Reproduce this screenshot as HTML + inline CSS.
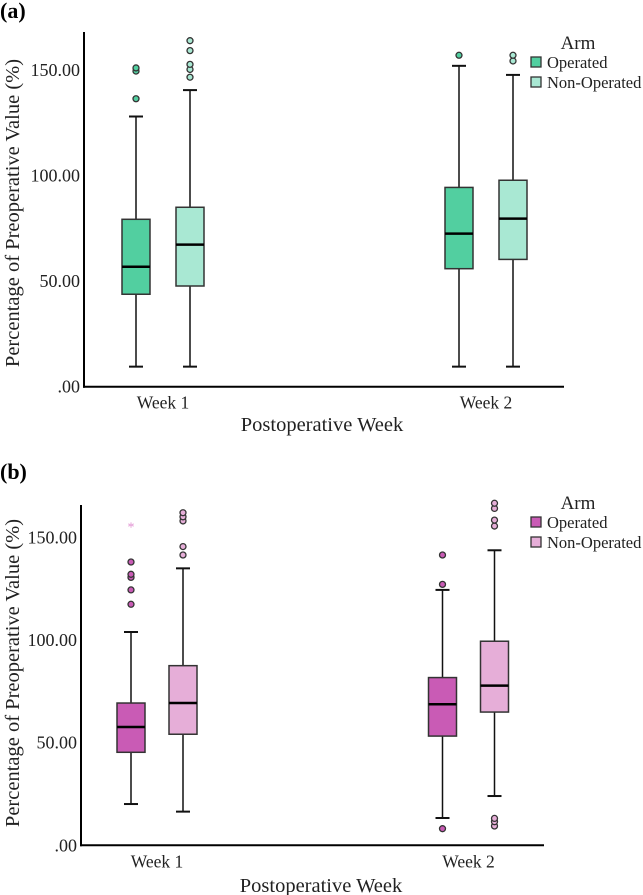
<!DOCTYPE html>
<html><head><meta charset="utf-8"><style>
html,body{margin:0;padding:0;background:#fff;}
svg{display:block;}
text{font-family:"Liberation Serif",serif;}
</style></head><body>
<svg id="fig" width="643" height="895" viewBox="0 0 643 895" xmlns="http://www.w3.org/2000/svg"></svg>
<script>
// Panel (a) data: [whiskerLow, Q1, median, Q3, whiskerHigh]
const categories = ["Week 1", "Week 2"];
const seriesNames = ["Operated", "Non-Operated"];
const yTicks = [0, 50, 100, 150];
const yTickLabels = [".00", "50.00", "100.00", "150.00"];
const aOperatedStats = [[9.5, 43.8, 56.8, 79.3, 128], [9.5, 55.9, 72.5, 94.4, 152]];
const aNonOperatedStats = [[9.5, 47.7, 67.3, 85, 140.5], [9.5, 60.3, 79.6, 97.8, 147.7]];
const aOperatedOutliers = [[136.4, 149.5, 151], [157]];
const aNonOperatedOutliers = [[146.6, 150.3, 152.7, 159.2, 163.9], [154.3, 157]];
const aOperatedExtremes = [[], []];
// Panel (b) data
const bOperatedStats = [[20.1, 45.3, 57.6, 69.3, 103.9], [13.3, 53.2, 68.7, 81.7, 124.4]];
const bNonOperatedStats = [[16.4, 54.1, 69.3, 87.5, 134.9], [24, 64.9, 77.8, 99.4, 143.7]];
const bOperatedOutliers = [[117.4, 124.4, 130.5, 132, 138], [8.1, 127.1, 141.4]];
const bNonOperatedOutliers = [[141.4, 145.5, 158, 160, 162], [9.4, 11.5, 13.1, 155.5, 158.4, 164.1, 166.6]];
const bOperatedExtremes = [[156.3], []];

const NS = "http://www.w3.org/2000/svg";
const svg = document.getElementById("fig");
function mk(tag, attrs, parent, text) {
  const e = document.createElementNS(NS, tag);
  for (const k in attrs) e.setAttribute(k, attrs[k]);
  if (text !== undefined) e.textContent = text;
  (parent || svg).appendChild(e);
  return e;
}

function panel(cfg) {
  const g = mk("g", {});
  
  
  const yScale = v => cfg.y0 - v * cfg.pxPerUnit;
  const t = mk("text", {x: 0, y: cfg.labelY, "font-size": 22, "font-weight": "bold"}, g, "(" + cfg.id + ")");
  
  
  const ya = mk("line", {x1: cfg.ax, y1: cfg.top, x2: cfg.ax, y2: cfg.y0 + 1, stroke: "#000", "stroke-width": 2}, g);
  
  
  const xa = mk("line", {x1: cfg.ax - 1, y1: cfg.y0, x2: cfg.right, y2: cfg.y0, stroke: "#000", "stroke-width": 2}, g);
  
  
  yTicks.forEach((v, i) => {
    const tl = mk("text", {x: cfg.ax - 4, y: yScale(v) + 6, "font-size": 18, "text-anchor": "end", fill: "#222"}, g, yTickLabels[i]);
    
    
  });
  categories.forEach((c, i) => {
    const tl = mk("text", {x: cfg.catX[i], y: cfg.y0 + 22, "font-size": 17.5, "text-anchor": "middle", fill: "#222"}, g, c);
    
    
  });
  const xt = mk("text", {x: cfg.xTitleX, y: cfg.xTitleY, "font-size": 20.5, "text-anchor": "middle", fill: "#222"}, g, "Postoperative Week");
  
  
  const yt = mk("text", {x: 0, y: 0, "font-size": 20.5, "text-anchor": "middle", fill: "#222",
    transform: "translate(" + 19 + "," + cfg.yTitleY + ") rotate(-90)"}, g, "Percentage of Preoperative Value (%)");
  
  

  const series = [
    {stats: cfg.opStats, out: cfg.opOut, ext: cfg.opExt, fill: cfg.colors[0], off: -cfg.sep},
    {stats: cfg.nonStats, out: cfg.nonOut, ext: [[], []], fill: cfg.colors[1], off: cfg.sep}
  ];
  series.forEach((s, si) => {
    categories.forEach((c, ci) => {
      const cx = cfg.catX[ci] + s.off;
      const st = s.stats[ci];
      const bw = cfg.boxW;
      const bg = mk("g", {}, g);
      
      
      mk("line", {x1: cx, y1: yScale(st[0]), x2: cx, y2: yScale(st[4]), stroke: "#111", "stroke-width": 1.5}, bg);
      mk("line", {x1: cx - 7, y1: yScale(st[0]), x2: cx + 7, y2: yScale(st[0]), stroke: "#111", "stroke-width": 2}, bg);
      mk("line", {x1: cx - 7, y1: yScale(st[4]), x2: cx + 7, y2: yScale(st[4]), stroke: "#111", "stroke-width": 2}, bg);
      mk("rect", {x: cx - bw / 2, y: yScale(st[3]), width: bw, height: yScale(st[1]) - yScale(st[3]), fill: s.fill, stroke: "#333", "stroke-width": 1.5}, bg);
      mk("line", {x1: cx - bw / 2, y1: yScale(st[2]), x2: cx + bw / 2, y2: yScale(st[2]), stroke: "#000", "stroke-width": 2.5}, bg);
      s.out[ci].forEach(v => {
        const o = mk("circle", {cx: cx, cy: yScale(v), r: 3, fill: s.fill, stroke: "#333", "stroke-width": 1.3}, bg);
        
        
      });
      s.ext[ci].forEach(v => {
        const o = mk("text", {x: cx, y: yScale(v) + 7, "font-size": 14, "text-anchor": "middle", fill: "#e08fd0"}, bg, "*");
        
        
      });
    });
  });
  const lg = mk("g", {}, g);
  
  
  const lt = mk("text", {x: 578, y: cfg.legY, "font-size": 19, "text-anchor": "middle", fill: "#222"}, lg, "Arm");
  
  
  seriesNames.forEach((n, i) => {
    const ey = cfg.legY + 19 + i * 20;
    const eg = mk("g", {}, lg);
    
    
    mk("rect", {x: 531, y: ey - 11, width: 10, height: 10, fill: cfg.colors[i], stroke: "#333", "stroke-width": 1.3}, eg);
    mk("text", {x: 547, y: ey, "font-size": 16.5, fill: "#222"}, eg, n);
  });
}

panel({id: "a", labelY: 18, y0: 386.7, pxPerUnit: 2.111, top: 32, ax: 84, right: 564,
  catX: [163, 486], sep: 27, boxW: 28, xTitleX: 322, xTitleY: 431, yTitleY: 213, legY: 49,
  opStats: aOperatedStats, nonStats: aNonOperatedStats, opOut: aOperatedOutliers, nonOut: aNonOperatedOutliers, opExt: aOperatedExtremes,
  colors: ["#52cfa0", "#a9e8d3"]});
panel({id: "b", labelY: 479, y0: 845.3, pxPerUnit: 2.053, top: 505, ax: 81, right: 544,
  catX: [157, 468.5], sep: 26, boxW: 28, xTitleX: 321, xTitleY: 892, yTitleY: 673, legY: 509,
  opStats: bOperatedStats, nonStats: bNonOperatedStats, opOut: bOperatedOutliers, nonOut: bNonOperatedOutliers, opExt: bOperatedExtremes,
  colors: ["#c95bb5", "#e6aed8"]});
</script>
</body></html>
